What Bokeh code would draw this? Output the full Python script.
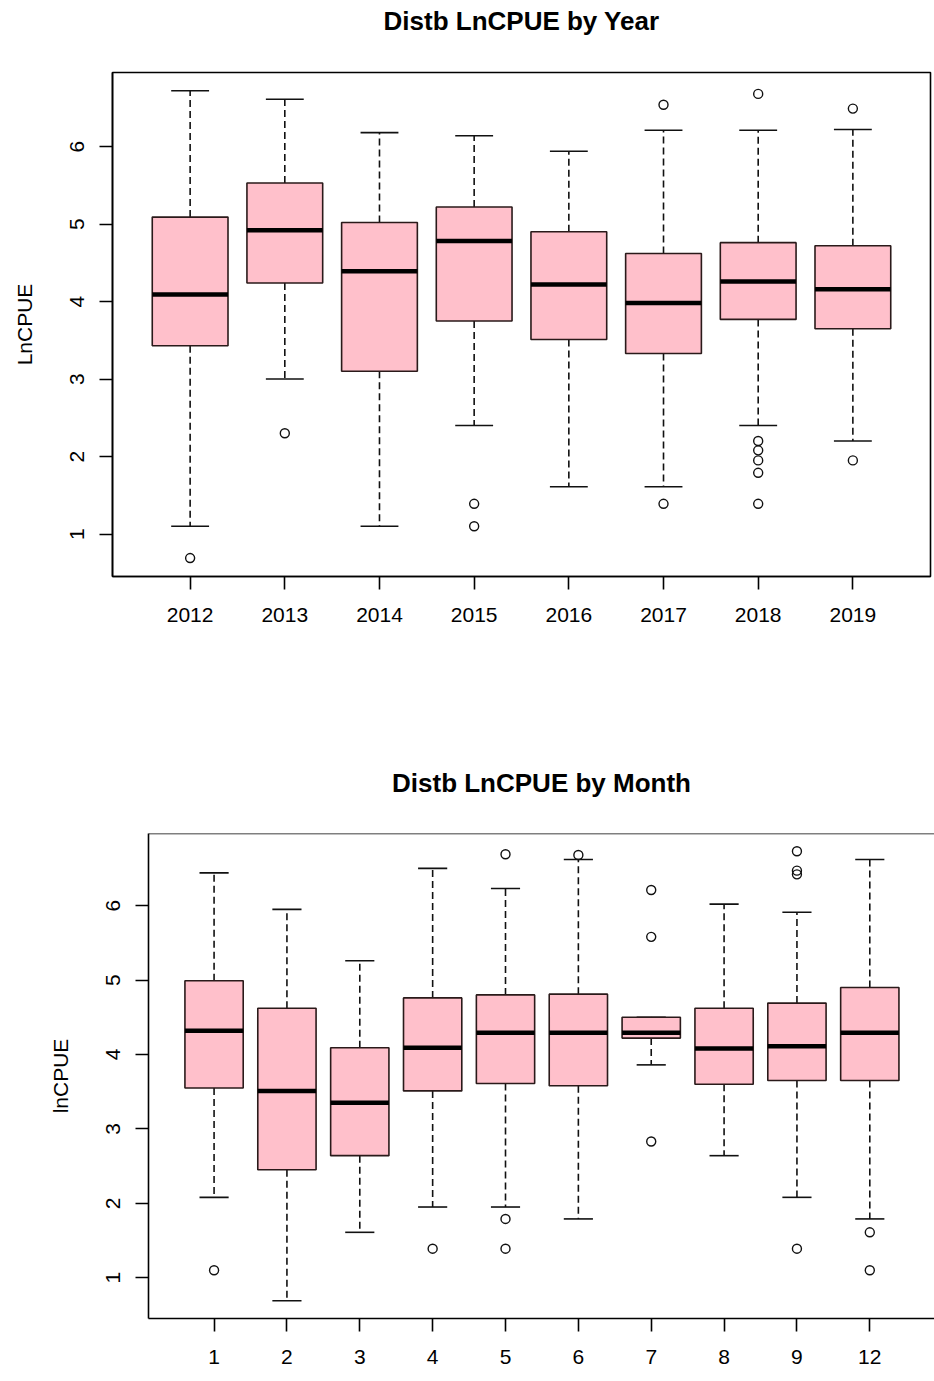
from bokeh.plotting import figure
from bokeh.models import FixedTicker, Span, Title
from bokeh.embed import file_html
from bokeh.resources import INLINE

# ---------------- data: by Year ----------------
year_labels = ["2012", "2013", "2014", "2015", "2016", "2017", "2018", "2019"]
year_lower = [1.10, 3.00, 1.10, 2.40, 1.61, 1.61, 2.40, 2.20]
year_q1 = [3.43, 4.24, 3.10, 3.75, 3.51, 3.33, 3.77, 3.65]
year_med = [4.09, 4.92, 4.39, 4.78, 4.22, 3.98, 4.26, 4.16]
year_q3 = [5.09, 5.53, 5.02, 5.22, 4.90, 4.62, 4.76, 4.72]
year_upper = [6.72, 6.61, 6.18, 6.14, 5.94, 6.21, 6.21, 6.22]
year_out_cat = ["2012", "2013", "2015", "2015", "2017", "2017",
                "2018", "2018", "2018", "2018", "2018", "2018", "2019", "2019"]
year_out_val = [0.69, 2.30, 1.39, 1.10, 6.54, 1.39,
                6.68, 2.20, 2.08, 1.95, 1.79, 1.39, 6.49, 1.95]

# ---------------- data: by Month ----------------
month_labels = ["1", "2", "3", "4", "5", "6", "7", "8", "9", "12"]
month_lower = [2.08, 0.69, 1.61, 1.95, 1.95, 1.79, 3.86, 2.64, 2.08, 1.79]
month_q1 = [3.55, 2.45, 2.64, 3.51, 3.61, 3.58, 4.22, 3.60, 3.65, 3.65]
month_med = [4.32, 3.51, 3.35, 4.09, 4.29, 4.29, 4.29, 4.08, 4.11, 4.29]
month_q3 = [4.99, 4.62, 4.09, 4.76, 4.80, 4.81, 4.50, 4.62, 4.69, 4.90]
month_upper = [6.44, 5.95, 5.26, 6.50, 6.23, 6.62, 4.50, 6.02, 5.91, 6.62]
month_out_cat = ["1", "4", "5", "5", "5", "6", "7", "7", "7",
                 "9", "9", "9", "9", "12", "12"]
month_out_val = [1.10, 1.39, 6.69, 1.79, 1.39, 6.68, 6.21, 5.58, 2.83,
                 6.73, 6.47, 6.42, 1.39, 1.61, 1.10]

y_ticks = [1, 2, 3, 4, 5, 6]

FONT = "Liberation Sans"
PINK = "#FFC0CB"
BOXW = 0.8
STAPLE = 0.4


def boxplot(title, ylabel, labels, lower, q1, med, q3, upper, out_cat, out_val,
            xr, yr, width, height, mb_left, mb_right, mb_top, mb_bottom,
            title_standoff, spacer_standoff=None, full_outline=True):
    n = len(labels)
    pos = list(range(1, n + 1))
    p = figure(width=width, height=height, title=None,
               x_range=xr, y_range=yr,
               output_backend="svg", toolbar_location=None,
               min_border_left=mb_left, min_border_right=mb_right,
               min_border_top=mb_top, min_border_bottom=mb_bottom,
               background_fill_color="white", border_fill_color="white")
    if spacer_standoff is not None:
        p.add_layout(Title(text=" ", text_font=FONT, text_font_size="26px",
                           standoff=spacer_standoff), "above")
    p.add_layout(Title(text=title, align="center", text_font=FONT,
                       text_font_size="26px", text_font_style="bold",
                       text_color="black", standoff=title_standoff), "above")

    p.xgrid.visible = False
    p.ygrid.visible = False
    if full_outline:
        p.outline_line_color = "black"
        p.outline_line_width = 1.6
        p.outline_line_alpha = 1.0
    else:
        p.outline_line_color = None
        p.add_layout(Span(location=yr[1], dimension="width",
                          line_color="black", line_width=1.6))

    # whiskers (dashed)
    p.segment(x0=pos, x1=pos, y0=q3, y1=upper, line_color="#111111",
              line_width=1.6, line_dash="7 4")
    p.segment(x0=pos, x1=pos, y0=q1, y1=lower, line_color="#111111",
              line_width=1.6, line_dash="7 4")
    # staples
    p.segment(x0=[x - STAPLE / 2 for x in pos], x1=[x + STAPLE / 2 for x in pos],
              y0=upper, y1=upper, line_color="#111111", line_width=1.6)
    p.segment(x0=[x - STAPLE / 2 for x in pos], x1=[x + STAPLE / 2 for x in pos],
              y0=lower, y1=lower, line_color="#111111", line_width=1.6)
    # boxes
    p.vbar(x=pos, width=BOXW, top=q3, bottom=q1, fill_color=PINK,
           line_color="#2a1a1a", line_width=1.6)
    # medians
    p.segment(x0=[x - BOXW / 2 for x in pos], x1=[x + BOXW / 2 for x in pos],
              y0=med, y1=med, line_color="black", line_width=4.5)
    # outliers
    ox = [labels.index(c) + 1 for c in out_cat]
    p.scatter(x=ox, y=out_val, marker="circle", size=9, fill_color=None,
              line_color="#111111", line_width=1.4)

    # axes
    xa = p.xaxis[0]
    xa.ticker = FixedTicker(ticks=pos)
    xa.major_label_overrides = {i + 1: lab for i, lab in enumerate(labels)}
    ya = p.yaxis[0]
    ya.ticker = FixedTicker(ticks=y_ticks)
    ya.axis_label = ylabel
    ya.major_label_orientation = "vertical"
    for ax in (xa, ya):
        ax.axis_line_color = "black"
        ax.axis_line_width = 1.6
        ax.major_tick_line_color = "black"
        ax.major_tick_line_width = 1.6
        ax.major_tick_out = 13
        ax.major_tick_in = 0
        ax.minor_tick_line_color = None
        ax.major_label_text_font = FONT
        ax.major_label_text_font_size = "21px"
        ax.major_label_text_color = "black"
        ax.axis_label_text_font = FONT
        ax.axis_label_text_font_size = "21px"
        ax.axis_label_text_font_style = "normal"
        ax.axis_label_text_color = "black"
    xa.major_label_standoff = 18
    ya.major_label_standoff = 15
    ya.axis_label_standoff = 32
    return p


p1 = boxplot("Distb LnCPUE by Year", "LnCPUE", year_labels, year_lower, year_q1,
             year_med, year_q3, year_upper, year_out_cat, year_out_val,
             xr=(0.18, 8.82), yr=(0.452, 6.956), width=934, height=690,
             mb_left=112, mb_right=4, mb_top=72, mb_bottom=114,
             title_standoff=4, spacer_standoff=3)

p2 = boxplot("Distb LnCPUE by Month", "lnCPUE", month_labels, month_lower, month_q1,
             month_med, month_q3, month_upper, month_out_cat, month_out_val,
             xr=(0.1, 10.888), yr=(0.452, 6.969), width=934, height=690,
             mb_left=148, mb_right=0, mb_top=143, mb_bottom=62,
             title_standoff=72, full_outline=False)

open("out.html", "w").write(file_html([p1, p2], INLINE))
